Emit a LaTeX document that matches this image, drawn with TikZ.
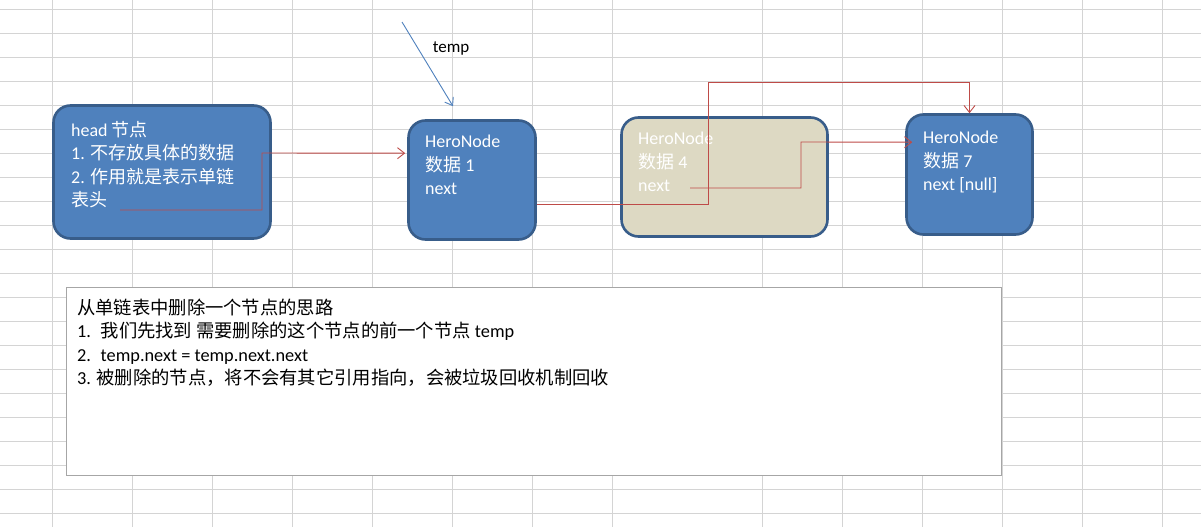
\documentclass[tikz,border=0pt]{standalone}
\usepackage{fontspec}
\setmainfont{Carlito}
\newfontfamily\cjkfull{Noto Sans CJK SC}
\newcommand{\zh}[1]{{\cjkfull #1}}
\usetikzlibrary{arrows.meta,calc}
\definecolor{nodeblue}{HTML}{4F81BD}
\definecolor{nodeedge}{HTML}{385D8A}
\definecolor{deadtan}{HTML}{DDD9C3}
\definecolor{linkred}{HTML}{BE4B48}
\definecolor{gridgray}{HTML}{D4D4D4}
\definecolor{notegray}{HTML}{A6A6A6}
\tikzset{
	gridline/.style={draw=gridgray, line width=0.8pt},
	herobox/.style={rectangle, rounded corners=17pt, inner sep=0, draw=nodeedge, line width=2.6pt, fill=nodeblue},
	boxtext/.style={text=white, align=left, anchor=north west, inner sep=0pt, font=\fontsize{18}{23.5}\selectfont},
	link/.style={draw=linkred, line width=0.9pt, -{Straight Barb[length=7pt,width=11pt]}},
	tempptr/.style={draw=nodeblue, line width=0.9pt, -{Straight Barb[length=7pt,width=10pt]}}
}
\begin{document}
\begin{tikzpicture}[x=1pt, y=-1pt]
		\useasboundingbox[fill=white] (0,0) rectangle (1201,527);
		% sheet grid
		\foreach \x in {52,132,...,612,762,842,...,1162}
			\draw[gridline] (\x,0) -- (\x,527);
		\foreach \y in {9,33,...,513}
			\draw[gridline] (0,\y) -- (1201,\y);
		% list nodes
		\node (head) at (162,172) [herobox, minimum width=217pt, minimum height=133pt] {};
		\node (n1) at (472,180) [herobox, minimum width=127pt, minimum height=119pt] {};
		\node (n4) at (724.5,177) [herobox, fill=deadtan, minimum width=206pt, minimum height=119pt] {};
		\node (n7) at (969.5,174.5) [herobox, minimum width=126pt, minimum height=120pt] {};
		\node (headtext) at (71,121) [boxtext] {head \zh{节点}\\1. \zh{不存放具体的数据}\\2. \zh{作用就是表示单链}\\\zh{表头}};
		\node (n1text) at (425,135) [boxtext] {HeroNode\\\zh{数据} 1\\next};
		\node (n4text) at (638,132) [boxtext] {HeroNode\\\zh{数据} 4\\next};
		\node (n7text) at (923,131) [boxtext] {HeroNode\\\zh{数据} 7\\next [null]};
		% note box
		\node (note) at (534,381.5) [rectangle, draw=notegray, line width=0.8pt, fill=white, minimum width=935pt, minimum height=188pt] {};
		\node (notetext) at (77,298.5) [boxtext, text=black, font=\fontsize{18.3}{23.5}\selectfont] {\zh{从单链表中删除一个节点的思路}\\1.~ \zh{我们先找到 需要删除的这个节点的前一个节点} temp\\2.~ temp.next = temp.next.next\\3. \zh{被删除的节点，将不会有其它引用指向，会被垃圾回收机制回收}};
		% pointers
		\coordinate (tmpstart) at (402,22);
		\node (templabel) at (451,48) [font=\fontsize{17}{20}\selectfont, inner sep=0] {temp};
		\draw[tempptr] (tmpstart) -- ($(n1.north)+(-19,-13)$);
		\coordinate (headnext) at (120,210);
		\coordinate (n1next) at ($(n1.east)+(0,24)$);
		\coordinate (n4next) at (690,188);
		\draw[link] (headnext) -| (262,153) -- ($(n1.north west)+(-2,34)$);
		\draw[link] (n1next) -| (708,82) -| (n7.north);
		\draw[link] (n4next) -| (801,142) -- ($(n7.north west)+(7,29)$);
\end{tikzpicture}
\end{document}
